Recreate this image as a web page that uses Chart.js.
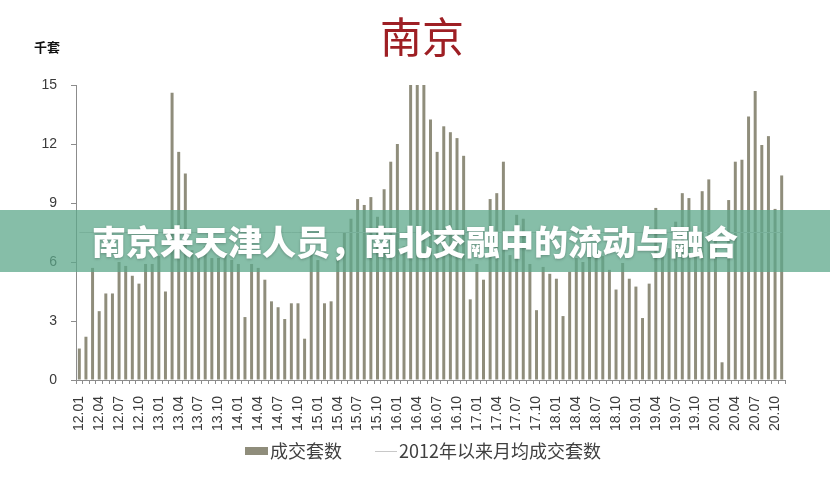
<!DOCTYPE html>
<html lang="zh-CN">
<head>
<meta charset="utf-8">
<title>南京</title>
<script src="https://cdn.jsdelivr.net/npm/chart.js@4.4.1/dist/chart.umd.min.js"></script>
<style>
  html, body { margin: 0; padding: 0; background: #fff; }
  #wrap { position: relative; width: 830px; height: 482px; }
</style>
</head>
<body>
<div id="wrap"><canvas id="c" width="830" height="482"></canvas></div>
<script>
/* 南京 月度成交套数（千套），2012.01 – 2020.11 */

const MONTHS = [
  "12.01","12.02","12.03","12.04","12.05","12.06","12.07","12.08","12.09","12.10","12.11","12.12",
  "13.01","13.02","13.03","13.04","13.05","13.06","13.07","13.08","13.09","13.10","13.11","13.12",
  "14.01","14.02","14.03","14.04","14.05","14.06","14.07","14.08","14.09","14.10","14.11","14.12",
  "15.01","15.02","15.03","15.04","15.05","15.06","15.07","15.08","15.09","15.10","15.11","15.12",
  "16.01","16.02","16.03","16.04","16.05","16.06","16.07","16.08","16.09","16.10","16.11","16.12",
  "17.01","17.02","17.03","17.04","17.05","17.06","17.07","17.08","17.09","17.10","17.11","17.12",
  "18.01","18.02","18.03","18.04","18.05","18.06","18.07","18.08","18.09","18.10","18.11","18.12",
  "19.01","19.02","19.03","19.04","19.05","19.06","19.07","19.08","19.09","19.10","19.11","19.12",
  "20.01","20.02","20.03","20.04","20.05","20.06","20.07","20.08","20.09","20.10","20.11",
];

const DEALS = [
  1.6, 2.2, 5.7, 3.5, 4.4, 4.4, 6.0, 5.8, 5.3, 4.9, 5.9, 5.9,
  6.3, 4.5, 14.6, 11.6, 10.5, 6.6, 6.3, 6.8, 6.2, 6.2, 6.5, 6.1,
  5.9, 3.2, 5.9, 5.7, 5.1, 4.0, 3.7, 3.1, 3.9, 3.9, 2.1, 6.4,
  6.1, 3.9, 4.0, 6.1, 7.5, 8.2, 9.2, 8.9, 9.3, 8.3, 9.7, 11.1,
  12.0, 6.8, 15.0, 15.0, 15.0, 13.25, 11.6, 12.9, 12.6, 12.3, 11.4, 4.1,
  5.9, 5.1, 9.2, 9.5, 11.1, 6.35, 8.4, 8.2, 5.9, 3.55, 5.75, 5.4,
  5.15, 3.25, 5.5, 6.2, 6.0, 6.3, 6.5, 6.3, 5.6, 4.6, 5.95, 5.15,
  4.75, 3.15, 4.9, 8.75, 6.4, 6.7, 8.05, 9.5, 9.25, 7.2, 9.6, 10.2,
  7.4, 0.9, 9.15, 11.1, 11.2, 13.4, 14.7, 11.95, 12.4, 8.7, 10.4,
];

const AVG_DEALS = 7.5;
const Y_TICKS = [0, 3, 6, 9, 12, 15];

const TITLE = "南京";
const UNIT = "千套";
const BANNER = "南京来天津人员，南北交融中的流动与融合";
const LEGEND = ["成交套数", "2012年以来月均成交套数"];

const BAR = "#8f8d7b";
const AVG_LINE = "#c8c8c8";
const AXIS = "#8c8c8c";
const INK = "#3a3a3a";
const CJK = '"Noto Sans CJK SC", "Noto Sans", sans-serif';
const LATIN = '"Liberation Sans", Arial, sans-serif';

/* 标题、单位、图例和横幅 — 直接画在画布上 */
const decor = {
  id: "decor",
  afterDraw(chart) {
    const ctx = chart.ctx;
    ctx.save();
    ctx.textBaseline = "middle";

    ctx.fillStyle = "#9e1f24";
    ctx.textAlign = "center";
    ctx.font = `42px ${CJK}`;
    ctx.fillText(TITLE, 422, 37);

    ctx.fillStyle = "#111";
    ctx.font = `bold 13px ${CJK}`;
    ctx.fillText(UNIT, 47, 47);

    // 图例
    ctx.textAlign = "left";
    ctx.font = `18px ${CJK}`;
    ctx.fillStyle = BAR;
    ctx.fillRect(245, 447, 23, 8);
    ctx.fillStyle = "#404040";
    ctx.fillText(LEGEND[0], 270, 451);
    ctx.strokeStyle = AVG_LINE;
    ctx.lineWidth = 1;
    ctx.beginPath();
    ctx.moveTo(375, 451.5);
    ctx.lineTo(397, 451.5);
    ctx.stroke();
    ctx.fillText(LEGEND[1], 399, 451);

    // 半透明横幅
    ctx.fillStyle = "rgba(94, 168, 139, 0.75)";
    ctx.fillRect(0, 210, 830, 62);
    ctx.textAlign = "center";
    ctx.font = `900 34px ${CJK}`;
    ctx.shadowColor = "rgba(0, 0, 0, 0.25)";
    ctx.shadowBlur = 3;
    ctx.shadowOffsetY = 1;
    ctx.fillStyle = "#fff";
    ctx.fillText(BANNER, 415, 242);
    ctx.restore();
  },
};

new Chart(document.getElementById("c"), {
  type: "bar",
  data: {
    labels: MONTHS,
    datasets: [
      {
        type: "line",
        label: LEGEND[1],
        data: MONTHS.map(() => AVG_DEALS),
        borderColor: AVG_LINE,
        borderWidth: 1,
        pointRadius: 0,
        order: 0,
      },
      {
        label: LEGEND[0],
        data: DEALS,
        backgroundColor: BAR,
        barPercentage: 0.45,
        categoryPercentage: 1,
        order: 1,
      },
    ],
  },
  options: {
    responsive: false,
    animation: false,
    layout: { padding: { top: 85, right: 45, bottom: 47, left: 0 } },
    plugins: {
      legend: { display: false },
      title: { display: false },
      tooltip: { enabled: false },
    },
    scales: {
      x: {
        grid: { drawOnChartArea: false, color: AXIS, tickLength: 4, offset: true },
        border: { color: AXIS },
        ticks: {
          autoSkip: false,
          maxRotation: 90,
          minRotation: 90,
          padding: 12,
          color: INK,
          font: { family: LATIN, size: 14 },
          callback: (v, i) => (i % 3 === 0 ? MONTHS[i] : ""),
        },
        afterFit: (s) => { s.height = 55; },
      },
      y: {
        min: 0,
        max: 15,
        afterBuildTicks: (s) => { s.ticks = Y_TICKS.map((v) => ({ value: v })); },
        grid: { drawOnChartArea: false, color: AXIS, tickLength: 5 },
        border: { color: AXIS },
        ticks: { padding: 14, color: INK, font: { family: LATIN, size: 14 } },
        afterFit: (s) => { s.width = 76; },
      },
    },
  },
  plugins: [decor],
});
</script>
</body>
</html>
